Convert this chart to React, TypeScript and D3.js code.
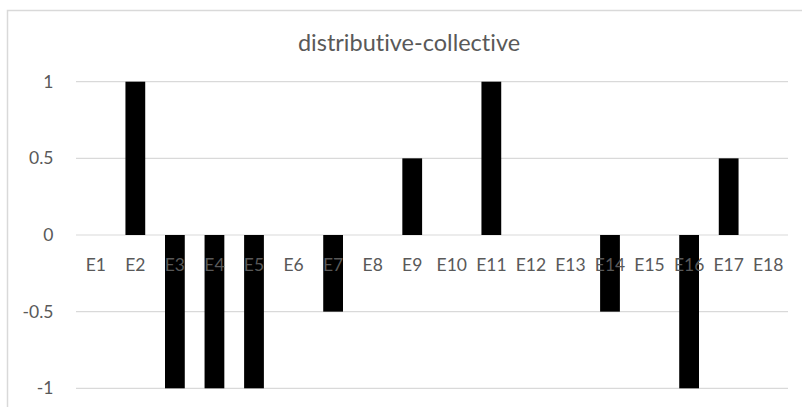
import React from "react";
import * as d3 from "d3";

const categories = ["E1","E2","E3","E4","E5","E6","E7","E8","E9","E10","E11","E12","E13","E14","E15","E16","E17","E18"];
const values = [0, 1, -1, -1, -1, 0, -0.5, 0, 0.5, 0, 1, 0, 0, -0.5, 0, -1, 0.5, 0];
const yTicks = [1, 0.5, 0, -0.5, -1];
const title = "distributive-collective";

const W = 802, H = 407;
const left = 76, right = 788, top = 81.7, bottom = 388.3;
const font = "Lato, 'Open Sans', sans-serif";

export default function App() {
  const x = d3.scaleBand<string>().domain(categories).range([left, right]).paddingInner(0.5).paddingOuter(0.25);
  const y = d3.scaleLinear().domain([-1, 1]).range([bottom, top]);
  return (
    <svg width={W} height={H} style={{ position: "absolute", left: 0, top: 0, background: "#fff", fontVariantLigatures: "none" }}>
      <rect x={7.5} y={10.5} width={820} height={420} fill="#fff" stroke="#d9d9d9" strokeWidth={1.5} />
      <text x={409} y={51} textAnchor="middle" fontFamily={font} fontSize={23.5} fill="#595959" style={{ fontVariantLigatures: "none", fontFeatureSettings: "'liga' 0, 'dlig' 0" }}>{title}</text>
      {yTicks.map((t) => (
        <g key={t}>
          <line x1={left} x2={right} y1={y(t)} y2={y(t)} stroke="#d9d9d9" strokeWidth={1.2} />
          <text x={53.5} y={y(t)} dy="0.35em" textAnchor="end" fontFamily={font} fontSize={17.5} fill="#595959">{t}</text>
        </g>
      ))}
      {categories.map((c, i) => (
        <rect key={c} x={x(c)!} width={x.bandwidth()} y={y(Math.max(0, values[i]))} height={Math.abs(y(values[i]) - y(0))} fill="#000" />
      ))}
      {categories.map((c) => (
        <text key={c} x={x(c)! + x.bandwidth() / 2} y={271} textAnchor="middle" fontFamily={font} fontSize={17.5} fill="#595959">{c}</text>
      ))}
    </svg>
  );
}
